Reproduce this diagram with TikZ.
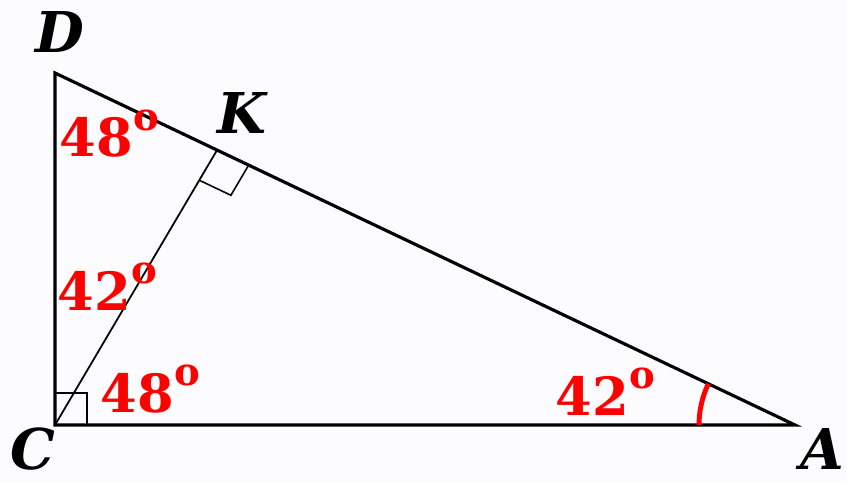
\documentclass[tikz,border=0pt]{standalone}
\usepackage{fontspec}
\setmainfont{DejaVu Serif}
\usetikzlibrary{calc}
\newcommand{\degsign}{\raisebox{0.5em}{\fontsize{11}{11}\selectfont o}}
\begin{document}
\begin{tikzpicture}[
    side/.style={line width=0.9pt},
    height/.style={line width=0.5pt},
    rightmark/.style={line width=0.45pt},
    vertex/.style={inner sep=1pt, font=\fontsize{16}{19}\selectfont\bfseries\itshape},
    angle/.style={text=red, anchor=base west, inner sep=0pt, font=\fontsize{15}{18}\selectfont\bfseries}
  ]
        % Háttér
        \useasboundingbox[fill={rgb,255:red,252;green,251;blue,253}] (0,0) rectangle (8.47,4.82);

        % Csúcsok
        \coordinate (C) at (0.55, 0.57);
        \coordinate (A) at (7.95, 0.57);
        \coordinate (D) at (0.55, 4.09);
        \coordinate (K) at ($(D)!0.219!(A)$);

        % Háromszög és magasság
        \draw[side] (D) -- (C) -- (A) -- cycle;
        \draw[height] (C) -- (K);

        % Derékszögek
        \draw[rightmark] ($(C)+(0.32,0)$) -- ++(0,0.32) -- ($(C)+(0,0.32)$);
        \coordinate (k1) at ($(K)!0.35cm!(C)$);
        \coordinate (k3) at ($(K)!0.35cm!(A)$);
        \draw[rightmark] (k1) -- ($(k1)+(k3)-(K)$) -- (k3);

        % Szögív A-nál
        \draw[red, line width=1.4pt] ($(A)+(-0.96,0)$) arc[start angle=180, end angle=154.6, radius=0.96];

        % Betűk
        \node[vertex] (labD) at (0.60, 4.50) {D};
        \node[vertex] (labK) at (2.42, 3.69) {K};
        \node[vertex] (labC) at (0.33, 0.33) {C};
        \node[vertex] (labA) at (8.22, 0.33) {A};

        % Szögek
        \node[angle] (angD) at (0.59, 3.25) {48\degsign};
        \node[angle] (angCD) at (0.57, 1.72) {42\degsign};
        \node[angle] (angCA) at (1.00, 0.70) {48\degsign};
        \node[angle] (angA) at (5.55, 0.67) {42\degsign};

    \end{tikzpicture}
\end{document}
